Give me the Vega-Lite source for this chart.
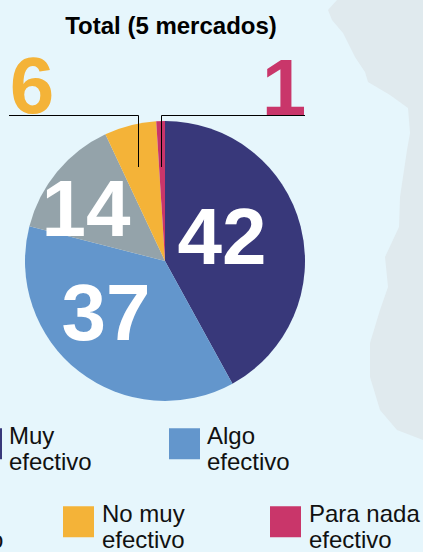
{
"$schema":"https://vega.github.io/schema/vega-lite/v6.json",
"width":330,"height":522,
"padding":{"left":0,"top":0,"right":93,"bottom":30},
"autosize":{"type":"none"},
"background":"#e6f6fc",
"title":{"text":"Total (5 mercados)","font":"Liberation Sans","fontSize":24,"fontWeight":"bold","color":"#000","anchor":"middle","dx":6,"offset":-63,"baseline":"bottom"},
"config":{"view":{"stroke":null},"legend":{"title":null,"orient":"none","symbolType":"square","symbolSize":961,"symbolStrokeWidth":0,"symbolOpacity":1,"labelFont":"Liberation Sans","labelFontSize":24,"labelColor":"#111","labelOffset":7,"labelLimit":0,"labelBaseline":"alphabetic","padding":0,"rowPadding":0}},
"datasets":{
"pie":[{"cat":"Muy efectivo","v":42,"o":1},{"cat":"Algo efectivo","v":37,"o":2},{"cat":"Sin efecto","v":14,"o":3},{"cat":"No muy efectivo","v":6,"o":4},{"cat":"Para nada efectivo","v":1,"o":5}],
"land":[{"px":337,"py":0},{"px":328,"py":10},{"px":332,"py":20},{"px":343,"py":33},{"px":355,"py":57},{"px":365,"py":72},{"px":368,"py":82},{"px":390,"py":95},{"px":408,"py":108},{"px":410,"py":133},{"px":407,"py":150},{"px":400,"py":197},{"px":399,"py":227},{"px":385,"py":257},{"px":388,"py":287},{"px":380,"py":310},{"px":370,"py":343},{"px":370,"py":377},{"px":380,"py":410},{"px":397,"py":430},{"px":423,"py":440}],
"lines":[{"g":"6","s":1,"px":9,"py":115.5},{"g":"6","s":2,"px":138.5,"py":115.5},{"g":"6","s":3,"px":138.5,"py":167},{"g":"1","s":1,"px":305,"py":115.5},{"g":"1","s":2,"px":161.5,"py":115.5},{"g":"1","s":3,"px":161.5,"py":167}],
"labels":[{"t":"42","px":222,"py":264,"c":"w"},{"t":"37","px":106,"py":340,"c":"w"},{"t":"14","px":86,"py":236,"c":"w"},{"t":"6","px":32,"py":113,"c":"o"},{"t":"1","px":284,"py":115,"c":"r"}]
},
"encoding":{
"x":{"type":"quantitative","scale":{"domain":[0,330],"range":[0,330]},"axis":null},
"y":{"type":"quantitative","scale":{"domain":[0,522],"range":[0,522]},"axis":null}
},
"layer":[
{"data":{"name":"land"},"mark":{"type":"area","orient":"horizontal","color":"#e0eaee"},"encoding":{"x":{"field":"px","type":"quantitative","scale":{"domain":[0,330],"range":[0,330]},"axis":null},"x2":{"datum":423},"y":{"field":"py","type":"quantitative","sort":null,"scale":{"domain":[0,522],"range":[0,522]},"axis":null}}},
{"data":{"name":"pie"},"transform":[{"stack":"v","as":["a0","a1"],"sort":[{"field":"o","order":"ascending"}]},{"filter":"datum.o<=2"}],"mark":{"type":"arc","outerRadius":140},"encoding":{"x":null,"y":null,"theta":{"field":"a0","type":"quantitative","scale":{"domain":[0,100],"range":[0,6.28319]}},"theta2":{"field":"a1"},"color":{"field":"cat","type":"nominal","sort":["Muy efectivo","Algo efectivo"],"scale":{"domain":["Muy efectivo","Algo efectivo"],"range":["#38387a","#6396cc"]},"legend":{"legendX":-29,"legendY":428,"columns":2,"columnPadding":77,"labelExpr":"split(replace(datum.label,' efect','|efect'),'|')"}}}},
{"data":{"name":"pie"},"transform":[{"stack":"v","as":["a0","a1"],"sort":[{"field":"o","order":"ascending"}]},{"filter":"datum.o==3"}],"mark":{"type":"arc","outerRadius":140},"encoding":{"x":null,"y":null,"theta":{"field":"a0","type":"quantitative","scale":{"domain":[0,100],"range":[0,6.28319]}},"theta2":{"field":"a1"},"color":{"field":"cat","type":"nominal","scale":{"domain":["Sin efecto"],"range":["#94a3aa"]},"legend":{"legendX":-100,"legendY":506,"columns":1,"labelExpr":"split(replace(datum.label,' efect','|efect'),'|')"}}}},
{"data":{"name":"pie"},"transform":[{"stack":"v","as":["a0","a1"],"sort":[{"field":"o","order":"ascending"}]},{"filter":"datum.o>=4"}],"mark":{"type":"arc","outerRadius":140},"encoding":{"x":null,"y":null,"theta":{"field":"a0","type":"quantitative","scale":{"domain":[0,100],"range":[0,6.28319]}},"theta2":{"field":"a1"},"color":{"field":"cat","type":"nominal","sort":["No muy efectivo","Para nada efectivo"],"scale":{"domain":["No muy efectivo","Para nada efectivo"],"range":["#f4b338","#c9366a"]},"legend":{"legendX":63,"legendY":506,"columns":2,"columnPadding":85,"labelOffset":8,"labelExpr":"split(replace(datum.label,' efect','|efect'),'|')"}}}},
{"data":{"name":"lines"},"mark":{"type":"line","color":"#000","strokeWidth":1},"encoding":{"x":{"field":"px","type":"quantitative"},"y":{"field":"py","type":"quantitative"},"detail":{"field":"g"},"order":{"field":"s"}}},
{"data":{"name":"labels"},"mark":{"type":"text","font":"Liberation Sans","fontWeight":"bold","fontSize":80,"align":"center","baseline":"alphabetic"},"encoding":{"x":{"field":"px","type":"quantitative"},"y":{"field":"py","type":"quantitative"},"text":{"field":"t"},"color":{"field":"c","type":"nominal","scale":{"domain":["w","o","r"],"range":["#ffffff","#f4b338","#c9366a"]},"legend":null}}}
],
"resolve":{"scale":{"color":"independent"}}
}
